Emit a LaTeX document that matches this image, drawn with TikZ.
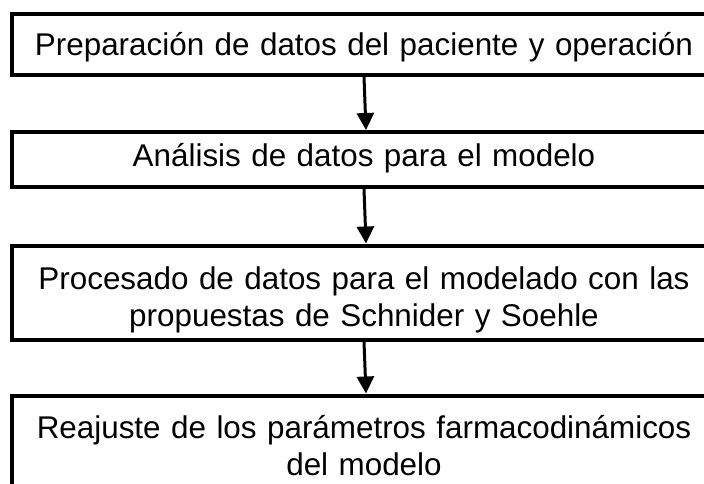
\documentclass[tikz,border=0pt]{standalone}
\usepackage{fontspec}
\setmainfont{Liberation Sans}
\usetikzlibrary{arrows.meta}
\begin{document}
\begin{tikzpicture}[x=1pt,y=-1pt,
  stepbox/.style={draw=black, line width=4pt, rectangle, minimum width=704pt, inner sep=0pt,
    align=center, font=\fontsize{31.4}{37}\selectfont, text width=690pt},
  flow/.style={line width=3pt, -{Triangle[width=17pt,length=17pt]}}]
\useasboundingbox (0,0) rectangle (704,484);
\clip (0,0) rectangle (704,484);
\node[stepbox, minimum height=61pt, text depth=1pt] (b1) at (364,44.5) {Preparación de datos del paciente y operación};
\node[stepbox, minimum height=55pt, text depth=10pt] (b2) at (364,159.5) {Análisis de datos para el modelo};
\node[stepbox, minimum height=94.5pt, text depth=29pt] (b3) at (364,292.75) {Procesado de datos para el modelado con las\\propuestas de Schnider y Soehle};
\node[stepbox, minimum height=104.5pt, text depth=41pt] (b4) at (364,447.75) {Reajuste de los parámetros farmacodinámicos\\del modelo};
\draw[flow] (b1.south) -- ([xshift=2pt]b2.north);
\draw[flow] (b2.south) -- ([xshift=2pt]b3.north);
\draw[flow] (b3.south) -- ([xshift=2pt]b4.north);
\end{tikzpicture}
\end{document}
